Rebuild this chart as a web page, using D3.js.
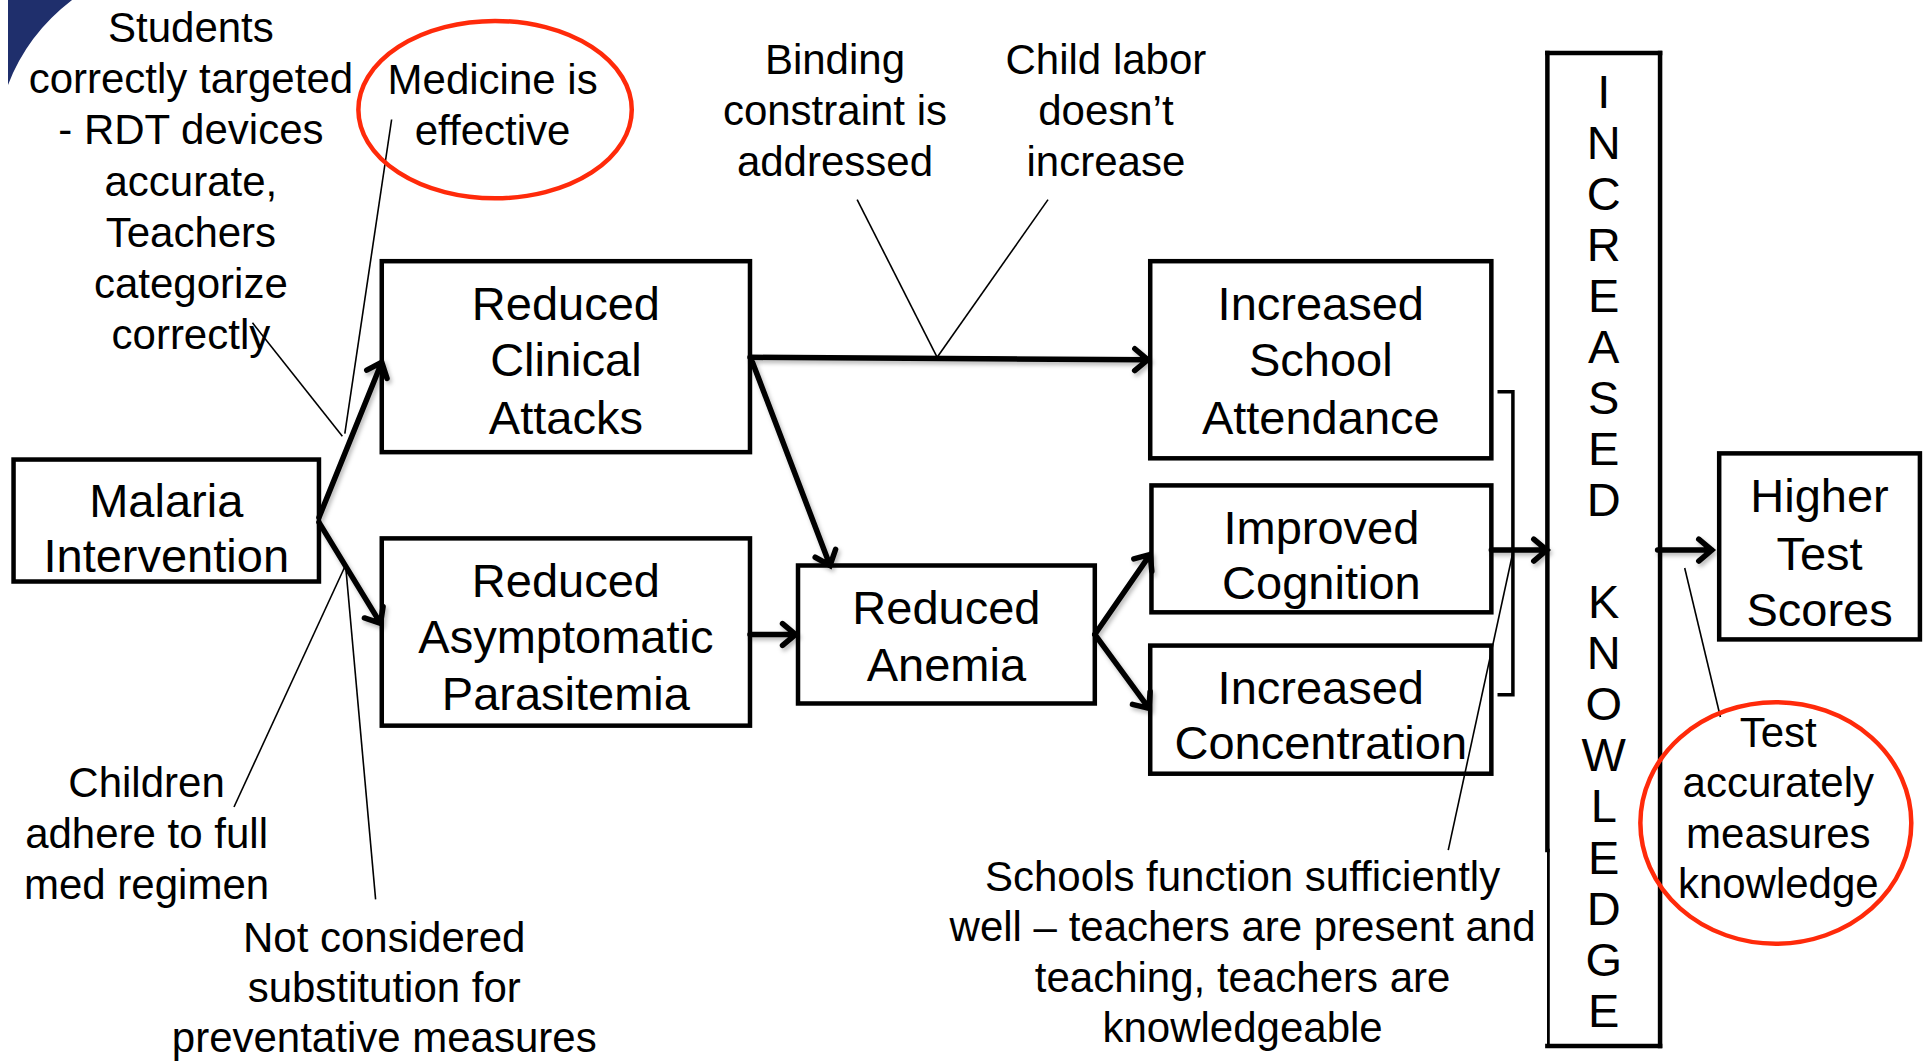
<!DOCTYPE html>
<html>
<head>
<meta charset="utf-8">
<script src="https://cdn.jsdelivr.net/npm/d3@7"></script>
<style>
  html, body { margin: 0; padding: 0; background: #fff; }
  svg { display: block; }
  text { font-family: "Liberation Sans", Arial, Helvetica, sans-serif; fill: #000; }
</style>
</head>
<body>
<svg id="chart" width="1931" height="1062"></svg>
<script>
// ---------- DATA (labels) ----------
const boxIds = ["malaria", "clinical", "asymp", "anemia", "school", "cognition", "concentration", "higher"];
const boxLabels = [
  ["Malaria", "Intervention"],
  ["Reduced", "Clinical", "Attacks"],
  ["Reduced", "Asymptomatic", "Parasitemia"],
  ["Reduced", "Anemia"],
  ["Increased", "School", "Attendance"],
  ["Improved", "Cognition"],
  ["Increased", "Concentration"],
  ["Higher", "Test", "Scores"]
];
const knowledgeLabel = "INCREASED KNOWLEDGE";
const noteIds = ["targeting", "medicine", "binding", "labor", "children", "substitution", "schools", "test"];
const noteLabels = [
  ["Students", "correctly targeted", "- RDT devices", "accurate,", "Teachers", "categorize", "correctly"],
  ["Medicine is", "effective"],
  ["Binding", "constraint is", "addressed"],
  ["Child labor", "doesn\u2019t", "increase"],
  ["Children", "adhere to full", "med regimen"],
  ["Not considered", "substitution for", "preventative measures"],
  ["Schools function sufficiently", "well \u2013 teachers are present and", "teaching, teachers are", "knowledgeable"],
  ["Test", "accurately", "measures", "knowledge"]
];
const arrowLinks = [
  ["malaria", "clinical"], ["malaria", "asymp"], ["clinical", "school"], ["clinical", "anemia"],
  ["asymp", "anemia"], ["anemia", "cognition"], ["anemia", "concentration"],
  ["bracket", "knowledge"], ["knowledge", "higher"]
];
const circledNotes = ["medicine", "test"];

// ---------- LAYOUT (reference units, 1568 x 862 frame) ----------
const boxRects = {
  malaria: [11, 373, 259, 472], clinical: [310, 212, 609, 367], asymp: [310, 437, 609, 589],
  anemia: [648, 459, 889, 571], school: [934, 212, 1211, 372], cognition: [935, 394, 1211, 497],
  concentration: [934, 524, 1211, 628], higher: [1396, 368, 1559, 519]
};
const boxLineY = {
  malaria: [406, 451], clinical: [246, 292, 339], asymp: [471, 517, 563], anemia: [493, 539],
  school: [246, 292, 339], cognition: [428, 473], concentration: [558, 603], higher: [402, 449, 495]
};
const knowledgeRect = [1256.5, 43, 1348, 849];
const knowledgeLetterY = [74, 820];
const arrowGeom = [
  [[259, 420], [310, 294]], [[259, 424], [309, 506]], [[609, 290], [932, 292]], [[611, 294], [674, 459]],
  [[609, 515], [646, 515]], [[889, 515], [934, 450]], [[889, 515], [933, 575]],
  [[1211, 446.5], [1256, 446.5]], [[1346, 446.5], [1390, 446.5]]
];
const bracket = { x0: 1216, x1: 1228.5, y0: 318, y1: 564 };
const notePos = {
  targeting: [155, 22, 41.6], medicine: [400, 64, 42], binding: [678, 48, 41.5], labor: [898, 48, 41.5],
  children: [119, 635, 41.5], substitution: [312, 761, 40.5], schools: [1009, 711, 41], test: [1444, 594, 41]
};
const leaderLines = [
  [[205, 262], [278, 354]], [[318, 97], [280, 352]], [[190, 655], [280, 460]], [[305, 730], [281, 463]],
  [[696, 162], [761, 290]], [[851, 162], [761, 290]], [[1176, 690], [1229, 446]], [[1397, 582], [1368, 461]]
];
const ellipses = { medicine: [402, 89, 111, 72], test: [1442, 668, 110, 98] };

// ---------- SCALES ----------
const W = 1931, H = 1062;
const sx = d3.scaleLinear().domain([0, 1568]).range([0, W]);
const sy = d3.scaleLinear().domain([0, 862]).range([0, H]);
const boxFont = 47, noteFont = 42, letterFont = 47;

const svg = d3.select("#chart");
svg.append("rect").attr("width", W).attr("height", H).attr("fill", "#fff");

const defs = svg.append("defs");
const f = defs.append("filter").attr("id", "shadow").attr("x", "-20%").attr("y", "-20%").attr("width", "140%").attr("height", "140%");
f.append("feDropShadow").attr("dx", 2).attr("dy", 3).attr("stdDeviation", 2).attr("flood-color", "#000").attr("flood-opacity", 0.28);

// corner decoration
const cp = d3.path();
cp.moveTo(sx(6.5), sy(0));
cp.lineTo(sx(58.5), sy(0));
cp.quadraticCurveTo(sx(22), sy(28), sx(6.5), sy(69));
cp.closePath();
svg.append("path").attr("d", cp.toString()).attr("fill", "#1f2f6c");

// leader lines (thin)
svg.append("g").selectAll("line").data(leaderLines).join("line")
  .attr("x1", d => sx(d[0][0])).attr("y1", d => sy(d[0][1]))
  .attr("x2", d => sx(d[1][0])).attr("y2", d => sy(d[1][1]))
  .attr("stroke", "#000").attr("stroke-width", 1.6);

// boxes
const gBoxes = svg.append("g");
boxIds.forEach((id, i) => {
  const r = boxRects[id];
  gBoxes.append("rect")
    .attr("x", sx(r[0])).attr("y", sy(r[1]))
    .attr("width", sx(r[2]) - sx(r[0])).attr("height", sy(r[3]) - sy(r[1]))
    .attr("fill", "none").attr("stroke", "#000").attr("stroke-width", 4.5);
  const cx = sx((r[0] + r[2]) / 2);
  boxLabels[i].forEach((t, j) => {
    gBoxes.append("text").attr("x", cx).attr("y", sy(boxLineY[id][j]))
      .attr("dy", "0.35em").attr("text-anchor", "middle")
      .attr("font-size", boxFont).text(t);
  });
});

// knowledge box
const kr = knowledgeRect;
const gK = svg.append("g").attr("stroke", "#000").attr("stroke-linecap", "square");
gK.append("line").attr("x1", sx(kr[0])).attr("y1", sy(kr[1])).attr("x2", sx(kr[2])).attr("y2", sy(kr[1])).attr("stroke-width", 4.5);
gK.append("line").attr("x1", sx(kr[2])).attr("y1", sy(kr[1])).attr("x2", sx(kr[2])).attr("y2", sy(kr[3])).attr("stroke-width", 4.5);
gK.append("line").attr("x1", sx(kr[0])).attr("y1", sy(kr[3])).attr("x2", sx(kr[2])).attr("y2", sy(kr[3])).attr("stroke-width", 4.5);
gK.append("line").attr("x1", sx(kr[0])).attr("y1", sy(kr[1])).attr("x2", sx(kr[0])).attr("y2", sy(690)).attr("stroke-width", 4.5);
gK.append("line").attr("x1", sx(kr[0]) + 1).attr("y1", sy(690)).attr("x2", sx(kr[0]) + 1).attr("y2", sy(kr[3])).attr("stroke-width", 2.8);
const letters = knowledgeLabel.split("");
const ly = d3.scaleLinear().domain([0, letters.length - 1]).range(knowledgeLetterY);
svg.append("g").selectAll("text").data(letters).join("text")
  .attr("x", sx((kr[0] + kr[2]) / 2)).attr("y", (d, i) => sy(ly(i)))
  .attr("dy", "0.35em").attr("text-anchor", "middle").attr("font-size", letterFont)
  .text(d => d === " " ? "" : d);

// bracket
const bp = d3.path();
bp.moveTo(sx(bracket.x0), sy(bracket.y0));
bp.lineTo(sx(bracket.x1), sy(bracket.y0));
bp.lineTo(sx(bracket.x1), sy(bracket.y1));
bp.lineTo(sx(bracket.x0), sy(bracket.y1));
svg.append("path").attr("d", bp.toString()).attr("fill", "none").attr("stroke", "#000").attr("stroke-width", 3.5);

// arrows
const gA = svg.append("g").attr("filter", "url(#shadow)");
arrowGeom.forEach((g, i) => {
  const x1 = sx(g[0][0]), y1 = sy(g[0][1]), x2 = sx(g[1][0]), y2 = sy(g[1][1]);
  const a = Math.atan2(y2 - y1, x2 - x1);
  const L = 17, th = 40 * Math.PI / 180;
  const p = d3.path();
  p.moveTo(x1, y1); p.lineTo(x2, y2);
  p.moveTo(x2 - L * Math.cos(a - th), y2 - L * Math.sin(a - th));
  p.lineTo(x2, y2);
  p.lineTo(x2 - L * Math.cos(a + th), y2 - L * Math.sin(a + th));
  gA.append("path").attr("d", p.toString()).attr("fill", "none").attr("stroke", "#000")
    .attr("stroke-width", 5.5).attr("stroke-linecap", "round").attr("stroke-linejoin", "miter")
    .attr("data-link", arrowLinks[i].join("-"));
});

// notes
const gN = svg.append("g");
noteIds.forEach((id, i) => {
  const p = notePos[id];
  noteLabels[i].forEach((t, j) => {
    gN.append("text").attr("x", sx(p[0])).attr("y", sy(p[1] + j * p[2]))
      .attr("dy", "0.35em").attr("text-anchor", "middle").attr("font-size", noteFont).text(t);
  });
});

// red ellipses
svg.append("g").selectAll("ellipse").data(circledNotes).join("ellipse")
  .attr("cx", d => sx(ellipses[d][0])).attr("cy", d => sy(ellipses[d][1]))
  .attr("rx", d => sx(ellipses[d][2])).attr("ry", d => sy(ellipses[d][3]))
  .attr("fill", "none").attr("stroke", "#ff2a0a").attr("stroke-width", 4.5);
</script>
</body>
</html>
